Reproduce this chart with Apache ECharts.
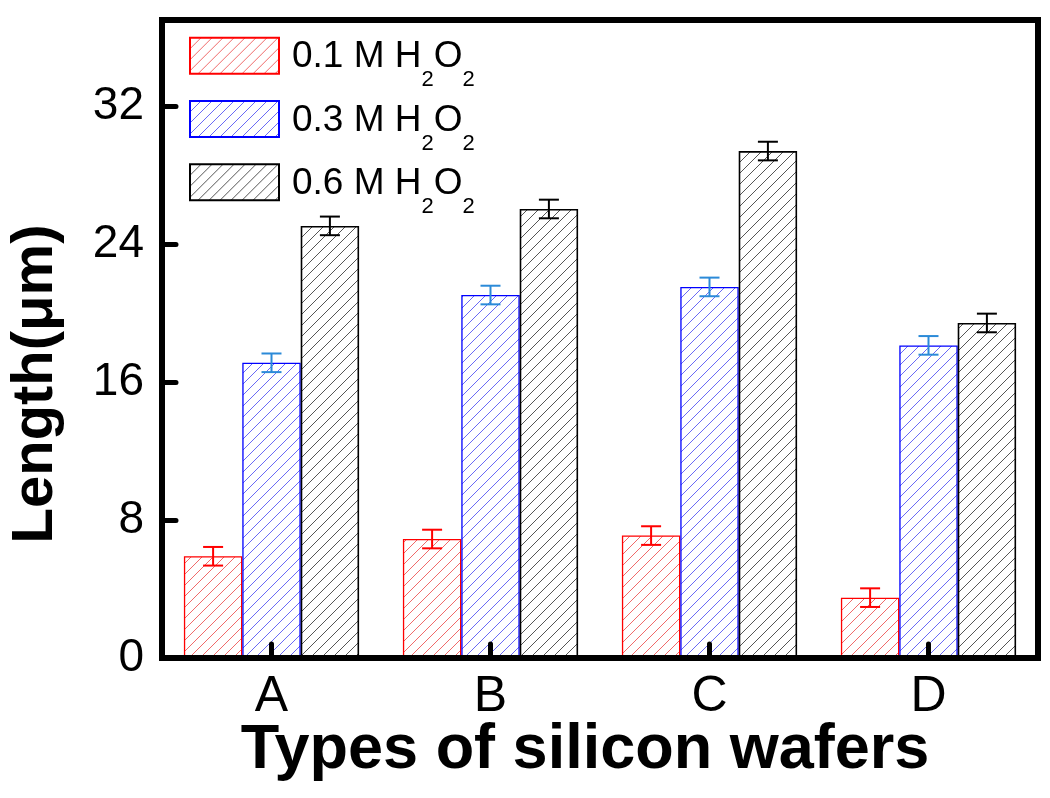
<!DOCTYPE html>
<html>
<head>
<meta charset="utf-8">
<script src="https://cdn.jsdelivr.net/npm/echarts@6/dist/echarts.min.js"></script>
<style>
html,body{margin:0;padding:0;background:#fff;}
#chart{width:1050px;height:798px;}
</style>
</head>
<body>
<div id="chart"></div>
<script>
// ---- data ----
const categories = ['A', 'B', 'C', 'D'];
const seriesNames = ['0.1 M H2O2', '0.3 M H2O2', '0.6 M H2O2'];
const legendLabels = ['0.1', '0.3', '0.6'];
const len01 = [5.9, 6.9, 7.1, 3.5];
const len03 = [17.12, 21.05, 21.52, 18.13];
const len06 = [25.06, 26.04, 29.4, 19.43];
const err01 = [0.54, 0.54, 0.54, 0.54];
const err03 = [0.54, 0.54, 0.54, 0.54];
const err06 = [0.54, 0.54, 0.54, 0.54];
const yTicks = [0, 8, 16, 24, 32];

const FONT = "'Liberation Sans', Arial, Helvetica, sans-serif";

function hatch(lineColor) {
  const s = 11;
  const c = document.createElement('canvas');
  c.width = s; c.height = s;
  const g = c.getContext('2d');
  g.fillStyle = '#ffffff';
  g.fillRect(0, 0, s, s);
  g.strokeStyle = lineColor;
  g.lineWidth = 1;
  g.beginPath();
  g.moveTo(-1, s + 1); g.lineTo(s + 1, -1);
  g.moveTo(-2, 2); g.lineTo(2, -2);
  g.moveTo(s - 2, s + 2); g.lineTo(s + 2, s - 2);
  g.stroke();
  return { image: c, repeat: 'repeat' };
}

const borderColors = ['#ff0000', '#0000ff', '#000000'];
const hatchColors = ['#f06a6a', '#6a6af5', '#555555'];
const errColors = ['#ff0000', '#2b8ad8', '#000000'];
const values = [len01, len03, len06];
const errors = [err01, err03, err06];

const chart = echarts.init(document.getElementById('chart'), null, { renderer: 'canvas' });

const series = [];
values.forEach((vals, k) => {
  series.push({
    name: seriesNames[k],
    type: 'bar',
    data: vals,
    barCategoryGap: '20%',
    barGap: '0%',
    itemStyle: {
      color: hatch(hatchColors[k]),
      borderColor: borderColors[k],
      borderWidth: k === 2 ? 1.6 : 1.3
    },
    emphasis: { disabled: true },
    z: 2
  });
});
values.forEach((vals, k) => {
  series.push({
    name: 'err' + k,
    type: 'custom',
    z: 5,
    silent: true,
    encode: { x: 0, y: 1 },
    data: vals.map((v, i) => [i, v, errors[k][i]]),
    renderItem: function (params, api) {
      const ci = api.value(0), v = api.value(1), e = api.value(2);
      const band = api.size([1, 0])[0];
      const bw = band * 0.8 / 3;
      const cx = api.coord([ci, v])[0] + (k - 1) * bw;
      const yt = api.coord([ci, v + e])[1];
      const yb = api.coord([ci, v - e])[1];
      const hw = 10;
      const st = { stroke: errColors[k], lineWidth: 2, fill: null };
      return {
        type: 'group',
        children: [
          { type: 'line', shape: { x1: cx, y1: yt, x2: cx, y2: yb }, style: st },
          { type: 'line', shape: { x1: cx - hw, y1: yt, x2: cx + hw, y2: yt }, style: st },
          { type: 'line', shape: { x1: cx - hw, y1: yb, x2: cx + hw, y2: yb }, style: st }
        ]
      };
    }
  });
});

const legendTops = [36.7, 100, 163.3];
const legends = seriesNames.map((nm, k) => ({
  left: 189,
  top: legendTops[k],
  padding: 0,
  orient: 'vertical',
  selectedMode: false,
  itemWidth: 89,
  itemHeight: 36,
  icon: 'rect',
  data: [nm],
  formatter: function () {
    return '{m|' + legendLabels[k] + ' M H}{s|2}{m|O}{s|2}';
  },
  textStyle: {
    padding: [0, 0, 0, 8],
    rich: {
      m: { fontFamily: FONT, fontSize: 37, color: '#000', lineHeight: 37, verticalAlign: 'top', padding: [1.5, 0, 0, 0] },
      s: { fontFamily: FONT, fontSize: 22, color: '#000', lineHeight: 22, verticalAlign: 'top', padding: [32, 0, 0, 0] }
    }
  }
}));

const option = {
  backgroundColor: '#ffffff',
  animation: false,
  textStyle: { fontFamily: FONT },
  grid: {
    left: 162, right: 12, top: 20, bottom: 140,
    show: true, borderColor: '#000', borderWidth: 6, backgroundColor: 'transparent'
  },
  legend: legends,
  xAxis: {
    type: 'category',
    data: categories,
    z: 10,
    axisLine: { lineStyle: { color: '#000', width: 6 } },
    axisTick: { show: true, inside: true, alignWithLabel: true, length: 14, lineStyle: { color: '#000', width: 5, cap: 'round' } },
    axisLabel: { color: '#000', fontSize: 50, fontFamily: FONT, margin: 14 },
    splitLine: { show: false }
  },
  yAxis: {
    type: 'value',
    min: 0,
    max: 37,
    interval: 8,
    z: 10,
    axisLine: { show: true, lineStyle: { color: '#000', width: 6 } },
    axisTick: { show: true, inside: true, length: 14, lineStyle: { color: '#000', width: 5, cap: 'round' } },
    axisLabel: {
      color: '#000', fontSize: 46, fontFamily: FONT, margin: 18, showMaxLabel: false,
      padding: [0, 0, 10, 0],
      formatter: function (v) { return yTicks.indexOf(v) >= 0 ? String(v) : ''; }
    },
    splitLine: { show: false }
  },
  graphic: [
    {
      type: 'text',
      x: 36, y: 384,
      rotation: Math.PI / 2,
      style: {
        text: 'Length(μm)',
        fontFamily: FONT, fontSize: 58, fontWeight: 'bold', fill: '#000',
        textAlign: 'center', textVerticalAlign: 'middle'
      }
    },
    {
      type: 'text',
      x: 585, y: 751,
      style: {
        text: 'Types of silicon wafers',
        fontFamily: FONT, fontSize: 63, fontWeight: 'bold', fill: '#000',
        textAlign: 'center', textVerticalAlign: 'middle'
      }
    }
  ],
  series: series
};

chart.setOption(option);
</script>
</body>
</html>
